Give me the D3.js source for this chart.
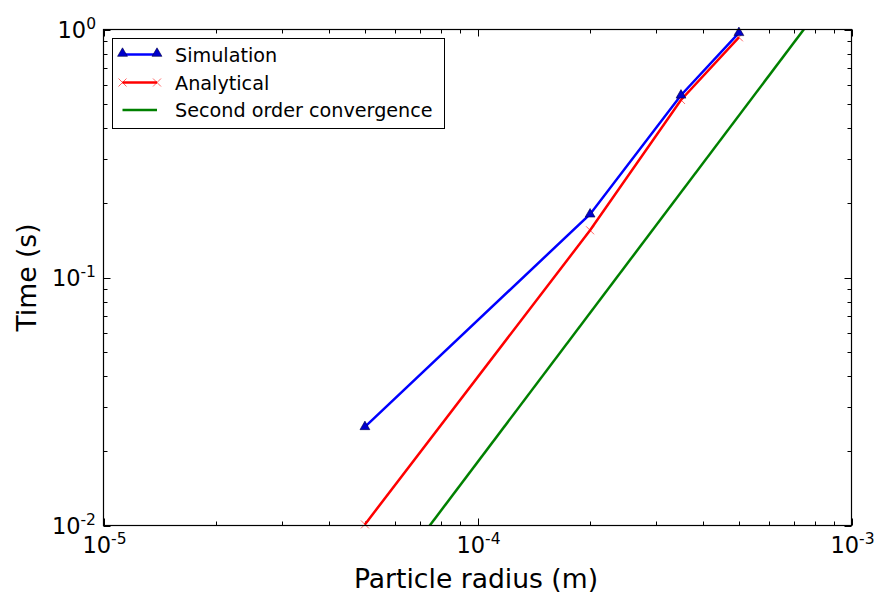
<!DOCTYPE html>
<html>
<head>
<meta charset="utf-8">
<script src="https://cdn.jsdelivr.net/npm/d3@7/dist/d3.min.js"></script>
<style>
  html, body { margin: 0; padding: 0; background: #fff; }
  svg { display: block; font-family: "DejaVu Sans", sans-serif; }
</style>
</head>
<body>
<svg id="chart" width="879" height="597"></svg>
<script>
// Particle radius (m) for each run
const radius = [5e-5, 2e-4, 3.5e-4, 5e-4];
// Measured simulation time (s)
const simulationTime = [0.025, 0.18, 0.543, 0.97];
// Analytical time (s)
const analyticalTime = [0.0101, 0.155, 0.52, 0.93];
// Reference line with slope 2 (t ∝ r²)
const refRadius = [1e-5, 1e-3];
const refTime = [1.8e-4, 1.8];

const xDecades = [-5, -4, -3];
const yDecades = [-2, -1, 0];

const svg = d3.select("#chart");
const m = { left: 103.5, right: 851.5, top: 29.5, bottom: 525.5 };

const x = d3.scaleLog().domain([1e-5, 1e-3]).range([m.left, m.right]);
const y = d3.scaleLog().domain([1e-2, 1]).range([m.bottom, m.top]);

svg.append("defs").append("clipPath").attr("id", "plotclip")
  .append("rect").attr("x", m.left).attr("y", m.top)
  .attr("width", m.right - m.left).attr("height", m.bottom - m.top);

// minor tick values for a log range
function minorTicks(lo, hi) {
  const out = [];
  for (let e = lo; e < hi; e++)
    for (let k = 2; k <= 9; k++) out.push(k * Math.pow(10, e));
  return out;
}

const ticks = svg.append("g").attr("stroke", "#000").attr("stroke-width", 1);
const majLen = 7, minLen = 4;
// x ticks (bottom and top, pointing inward)
xDecades.forEach(e => {
  const px = Math.round(x(Math.pow(10, e))) + 0.5;
  ticks.append("line").attr("x1", px).attr("x2", px).attr("y1", m.bottom).attr("y2", m.bottom - majLen);
  ticks.append("line").attr("x1", px).attr("x2", px).attr("y1", m.top).attr("y2", m.top + majLen);
});
minorTicks(-5, -3).forEach(v => {
  const px = Math.round(x(v)) + 0.5;
  ticks.append("line").attr("x1", px).attr("x2", px).attr("y1", m.bottom).attr("y2", m.bottom - minLen);
  ticks.append("line").attr("x1", px).attr("x2", px).attr("y1", m.top).attr("y2", m.top + minLen);
});
// y ticks (left and right)
yDecades.forEach(e => {
  const py = Math.round(y(Math.pow(10, e))) + 0.5;
  ticks.append("line").attr("y1", py).attr("y2", py).attr("x1", m.left).attr("x2", m.left + majLen);
  ticks.append("line").attr("y1", py).attr("y2", py).attr("x1", m.right).attr("x2", m.right - majLen);
});
minorTicks(-2, 0).forEach(v => {
  const py = Math.round(y(v)) + 0.5;
  ticks.append("line").attr("y1", py).attr("y2", py).attr("x1", m.left).attr("x2", m.left + minLen);
  ticks.append("line").attr("y1", py).attr("y2", py).attr("x1", m.right).attr("x2", m.right - minLen);
});

// data lines
const lw = 2.5;
const line = d3.line().x(d => x(d[0])).y(d => y(d[1]));
const plot = svg.append("g").attr("clip-path", "url(#plotclip)");

plot.append("path").datum(d3.zip(refRadius, refTime))
  .attr("d", line).attr("fill", "none").attr("stroke", "#008000").attr("stroke-width", lw);

plot.append("path").datum(d3.zip(radius, analyticalTime))
  .attr("d", line).attr("fill", "none").attr("stroke", "#ff0000").attr("stroke-width", lw);

plot.append("path").datum(d3.zip(radius, simulationTime))
  .attr("d", line).attr("fill", "none").attr("stroke", "#0000ff").attr("stroke-width", lw);

// markers
const tri = d3.symbol().type(d3.symbolTriangle).size(42);
function drawX(g, cx, cy, r) {
  g.append("path")
    .attr("d", `M${cx - r},${cy - r}L${cx + r},${cy + r}M${cx - r},${cy + r}L${cx + r},${cy - r}`)
    .attr("stroke", "#ff0000").attr("stroke-width", 1).attr("stroke-opacity", 0.6).attr("fill", "none");
}
const marks = svg.append("g");
radius.forEach((r, i) => drawX(marks, x(r), y(analyticalTime[i]), 4));
radius.forEach((r, i) => {
  marks.append("path").attr("d", tri)
    .attr("transform", `translate(${x(r)},${y(simulationTime[i])})`)
    .attr("fill", "#0000cc").attr("stroke", "#000044").attr("stroke-width", 0.6);
});

// frame
svg.append("rect").attr("x", m.left).attr("y", m.top)
  .attr("width", m.right - m.left).attr("height", m.bottom - m.top)
  .attr("fill", "none").attr("stroke", "#000").attr("stroke-width", 1.2);

// tick labels: 10 with superscript exponent
function powLabel(sel, e) {
  sel.append("tspan").text("10");
  sel.append("tspan").attr("dy", -9).attr("font-size", 15.5).text(String(e));
}
xDecades.forEach(e => {
  const t = svg.append("text").attr("x", x(Math.pow(10, e)) + 1).attr("y", 553)
    .attr("text-anchor", "middle").attr("font-size", 22.5).attr("fill", "#000");
  powLabel(t, e);
});
yDecades.forEach(e => {
  const t = svg.append("text").attr("x", 96).attr("y", y(Math.pow(10, e)) + 8)
    .attr("text-anchor", "end").attr("font-size", 22.5).attr("fill", "#000");
  powLabel(t, e);
});

// axis titles
svg.append("text").attr("x", 476).attr("y", 588)
  .attr("text-anchor", "middle").attr("font-size", 26.6).attr("fill", "#000")
  .text("Particle radius (m)");
svg.append("text").attr("transform", `translate(36,${(m.top + m.bottom) / 2}) rotate(-90)`)
  .attr("text-anchor", "middle").attr("font-size", 26.6).attr("fill", "#000")
  .text("Time (s)");

// legend
const lg = svg.append("g");
lg.append("rect").attr("x", 112.5).attr("y", 38.5).attr("width", 332).attr("height", 90)
  .attr("fill", "#fff").attr("stroke", "#000").attr("stroke-width", 1);
const lx1 = 122.5, lx2 = 157;
const rows = [
  { label: "Simulation", color: "#0000ff", y: 54.5, mark: "tri" },
  { label: "Analytical", color: "#ff0000", y: 82.5, mark: "x" },
  { label: "Second order convergence", color: "#008000", y: 110, mark: null }
];
rows.forEach(r => {
  lg.append("line").attr("x1", lx1).attr("x2", lx2).attr("y1", r.y).attr("y2", r.y)
    .attr("stroke", r.color).attr("stroke-width", lw);
  if (r.mark === "tri") {
    [lx1, lx2].forEach(px => lg.append("path").attr("d", tri)
      .attr("transform", `translate(${px},${r.y - 1})`)
      .attr("fill", "#0000cc").attr("stroke", "#000044").attr("stroke-width", 0.6));
  } else if (r.mark === "x") {
    [lx1, lx2].forEach(px => drawX(lg, px, r.y, 4));
  }
  lg.append("text").attr("x", 175).attr("y", r.y + 7).attr("font-size", 19.2).attr("fill", "#000")
    .text(r.label);
});
</script>
</body>
</html>
